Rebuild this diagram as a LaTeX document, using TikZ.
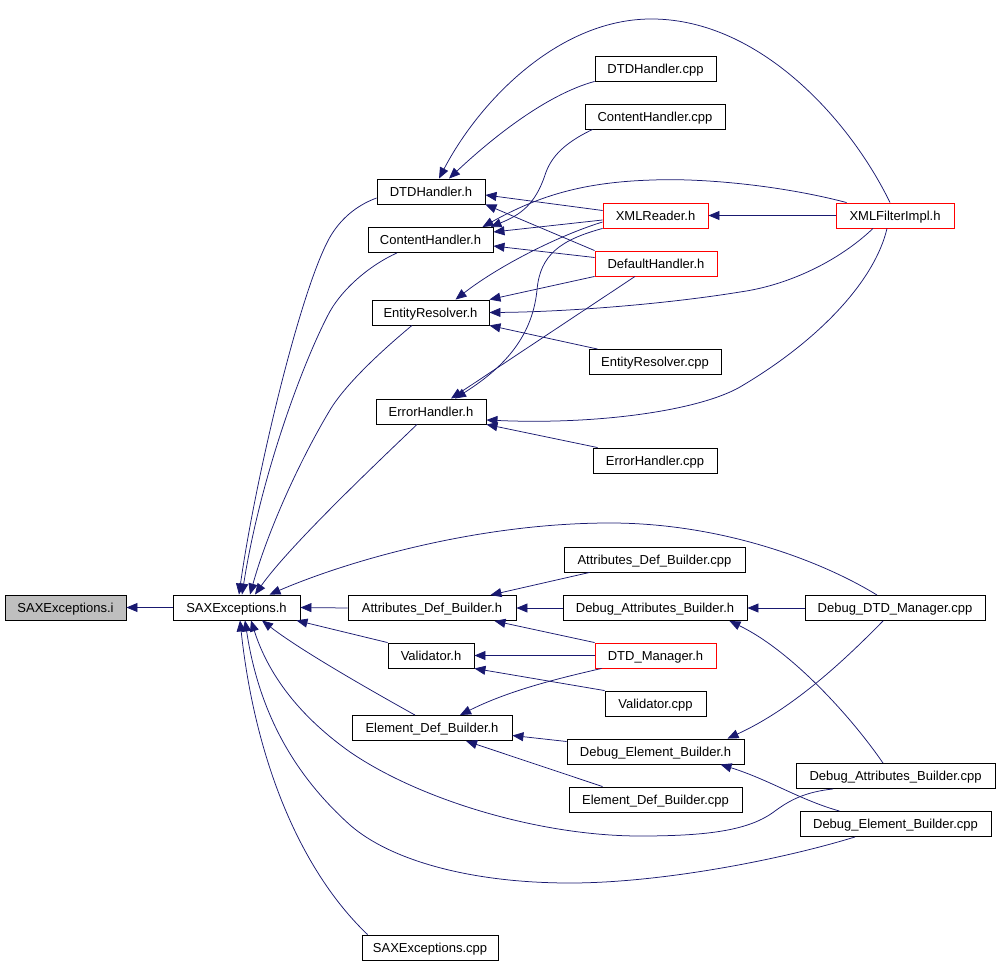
\documentclass[tikz,border=0pt]{standalone}
\usepackage{fontspec}
\setmainfont{Liberation Sans}
\usetikzlibrary{arrows.meta,calc}
\definecolor{edgeblue}{HTML}{191970}
\definecolor{nodegray}{HTML}{BFBFBF}
\begin{document}
\begin{tikzpicture}[x=1pt,y=-1pt,
  box/.style={draw=black, line width=0.9pt, fill=white, minimum height=25pt, inner sep=0pt,
              text height=9.3pt, text depth=0pt,
              font=\fontsize{13}{15}\selectfont, text=black},
  redbox/.style={box, draw=red},
  graybox/.style={box, fill=nodegray},
  dep/.style={draw=edgeblue, line width=0.75pt, -{Triangle[length=11pt,width=9pt]}}]
\useasboundingbox (0,0) rectangle (1000,965);

% nodes
\node[graybox, minimum width=121pt] (SAXi) at (65.5,607.5) {SAXExceptions.i};
\node[box, minimum width=127pt] (SAXh) at (236.5,607.5) {SAXExceptions.h};
\node[box, minimum width=108pt] (DTDh) at (431,191.5) {DTDHandler.h};
\node[box, minimum width=125pt] (CHh) at (430.5,240) {ContentHandler.h};
\node[box, minimum width=117pt] (ERh) at (430.5,312.5) {EntityResolver.h};
\node[box, minimum width=110pt] (EHh) at (431,411.5) {ErrorHandler.h};
\node[box, minimum width=121pt] (DTDcpp) at (655.5,68.5) {DTDHandler.cpp};
\node[box, minimum width=140pt] (CHcpp) at (655,116.5) {ContentHandler.cpp};
\node[redbox, minimum width=105pt] (XMLR) at (655.5,215.5) {XMLReader.h};
\node[redbox, minimum width=118pt] (XMLF) at (895,215.5) {XMLFilterImpl.h};
\node[redbox, minimum width=122pt] (DefH) at (656,263.5) {DefaultHandler.h};
\node[box, minimum width=132pt] (ERcpp) at (655,362) {EntityResolver.cpp};
\node[box, minimum width=124pt] (EHcpp) at (655,460.5) {ErrorHandler.cpp};
\node[box, minimum width=181pt] (ADBcpp) at (654.5,559.5) {Attributes\_Def\_Builder.cpp};
\node[box, minimum width=168pt] (ADBh) at (432,608) {Attributes\_Def\_Builder.h};
\node[box, minimum width=184pt] (DABh) at (655,608) {Debug\_Attributes\_Builder.h};
\node[box, minimum width=180pt] (DDTDcpp) at (895,608) {Debug\_DTD\_Manager.cpp};
\node[box, minimum width=86pt] (Valh) at (431,655.5) {Validator.h};
\node[redbox, minimum width=121pt] (DTDM) at (655.5,655.5) {DTD\_Manager.h};
\node[box, minimum width=101pt] (Valcpp) at (655.5,703.5) {Validator.cpp};
\node[box, minimum width=160pt] (EDBh) at (432,728) {Element\_Def\_Builder.h};
\node[box, minimum width=177pt] (DEBh) at (655.5,751.5) {Debug\_Element\_Builder.h};
\node[box, minimum width=173pt] (EDBcpp) at (655.5,799.5) {Element\_Def\_Builder.cpp};
\node[box, minimum width=199pt] (DABcpp) at (895.5,776) {Debug\_Attributes\_Builder.cpp};
\node[box, minimum width=191pt] (DEBcpp) at (895.5,824) {Debug\_Element\_Builder.cpp};
\node[box, minimum width=136pt] (SAXcpp) at (430,947.5) {SAXExceptions.cpp};

% edges into SAXExceptions.i / SAXExceptions.h
\draw[dep] (SAXh.west) -- (SAXi.east);
\draw[dep] ($(DTDh.west)+(0,6.5)$) .. controls (355,206) and (340,220) .. (330,237)
   .. controls (300,290) and (255,480) .. ($(SAXh.north)+(2.5,0)$);
\draw[dep] ($(CHh.south)+(-33.5,0)$) .. controls (370,265) and (340,290) .. (327,317)
   .. controls (300,370) and (260,480) .. ($(SAXh.north)+(5.5,0)$);
\draw[dep] ($(ERh.south)+(-18.5,0)$) .. controls (380,352) and (345,385) .. (330,410)
   .. controls (300,460) and (268,530) .. ($(SAXh.north)+(13.5,0)$);
\draw[dep] ($(EHh.south)+(-14,0)$) .. controls (380,460) and (290,545) .. ($(SAXh.north)+(18.5,0)$);
\draw[dep] ($(DDTDcpp.north)+(-18,0)$) .. controls (820,560) and (720,523) .. (610,523)
   .. controls (480,523) and (350,560) .. ($(SAXh.north)+(33,0)$);
\draw[dep] (ADBh.west) -- (SAXh.east);
\draw[dep] (Valh.north west) -- ($(SAXh.south east)+(-4,0)$);
\draw[dep] ($(EDBh.north)+(-17,0)$) .. controls (370,690) and (300,650) .. ($(SAXh.south)+(25.5,0)$);
\draw[dep] ($(DABcpp.south)+(-62.5,0)$) .. controls (805,792) and (790,800) .. (775,811)
   .. controls (750,830) and (710,836) .. (640,836)
   .. controls (540,836) and (420,800) .. (350,752)
   .. controls (305,720) and (270,680) .. ($(SAXh.south)+(14.5,0)$);
\draw[dep] ($(DEBcpp.south)+(-40.5,0)$) .. controls (780,860) and (660,883) .. (570,883)
   .. controls (470,883) and (390,860) .. (350,825)
   .. controls (300,780) and (260,720) .. ($(SAXh.south)+(8.5,0)$);
\draw[dep] ($(SAXcpp.north west)+(6,0)$) .. controls (300,870) and (255,760) .. ($(SAXh.south)+(3.5,0)$);

% upper group
\draw[dep] (DTDcpp.south west) .. controls (545,95) and (490,140) .. ($(DTDh.north)+(18,0)$);
\draw[dep] ($(XMLF.north)+(-5,0)$) .. controls (850,120) and (760,20) .. (653,19)
   .. controls (560,18) and (480,100) .. ($(DTDh.north)+(8,0)$);
\draw[dep] ($(XMLR.west)+(0,-5)$) -- ($(DTDh.east)+(0,3.5)$);
\draw[dep] (DefH.north west) -- (DTDh.south east);
\draw[dep] ($(CHcpp.south west)+(8,0)$) .. controls (560,145) and (550,160) .. (545,175)
   .. controls (535,205) and (520,215) .. ($(CHh.north east)+(-3,0)$);
\draw[dep] ($(XMLF.north west)+(11,0)$) .. controls (780,185) and (700,178) .. (653,180)
   .. controls (585,182) and (540,195) .. ($(CHh.north east)+(-11,0)$);
\draw[dep] ($(XMLR.west)+(0,4.5)$) -- ($(CHh.east)+(0,-8)$);
\draw[dep] ($(DefH.west)+(0,-6)$) -- ($(CHh.east)+(0,6)$);
\draw[dep] ($(XMLR.west)+(0,6.5)$) .. controls (560,235) and (500,265) .. ($(ERh.north)+(25,0)$);
\draw[dep] (DefH.south west) -- (ERh.north east);
\draw[dep] ($(XMLF.south)+(-22,0)$) .. controls (840,260) and (790,285) .. (740,292)
   .. controls (660,305) and (560,312) .. (ERh.east);
\draw[dep] ($(ERcpp.north west)+(9,0)$) -- (ERh.south east);
\draw[dep] (XMLR.south west) .. controls (560,240) and (540,255) .. (537,290)
   .. controls (532,340) and (500,370) .. ($(EHh.north)+(24,0)$);
\draw[dep] ($(DefH.south)+(-21,0)$) -- ($(EHh.north)+(20,0)$);
\draw[dep] ($(XMLF.south)+(-8,0)$) .. controls (875,280) and (820,340) .. (740,387)
   .. controls (700,410) and (600,425) .. ($(EHh.east)+(0,8.5)$);
\draw[dep] ($(EHcpp.north west)+(5,0)$) -- (EHh.south east);
\draw[dep] (XMLF.west) -- (XMLR.east);

% lower group
\draw[dep] ($(ADBcpp.south west)+(26,0)$) -- ($(ADBh.north east)+(-26,0)$);
\draw[dep] (DABh.west) -- (ADBh.east);
\draw[dep] (DTDM.north west) -- ($(ADBh.south east)+(-22,0)$);
\draw[dep] (DDTDcpp.west) -- (DABh.east);
\draw[dep] ($(DABcpp.north)+(-12.5,0)$) .. controls (850,715) and (790,650) .. ($(DABh.south east)+(-18,0)$);
\draw[dep] (DTDM.west) -- (Valh.east);
\draw[dep] (Valcpp.north west) -- (Valh.south east);
\draw[dep] ($(DTDM.south west)+(7,0)$) .. controls (560,678) and (510,690) .. ($(EDBh.north)+(28,0)$);
\draw[dep] ($(DEBh.west)+(0,-10)$) -- ($(EDBh.east)+(0,7.5)$);
\draw[dep] ($(EDBcpp.north west)+(34,0)$) -- ($(EDBh.south)+(34,0)$);
\draw[dep] ($(DDTDcpp.south)+(-12,0)$) .. controls (840,665) and (790,710) .. ($(DEBh.north)+(72,0)$);
\draw[dep] ($(DEBcpp.north west)+(40,0)$) .. controls (800,800) and (770,780) .. ($(DEBh.south)+(65,0)$);
\end{tikzpicture}
\end{document}
